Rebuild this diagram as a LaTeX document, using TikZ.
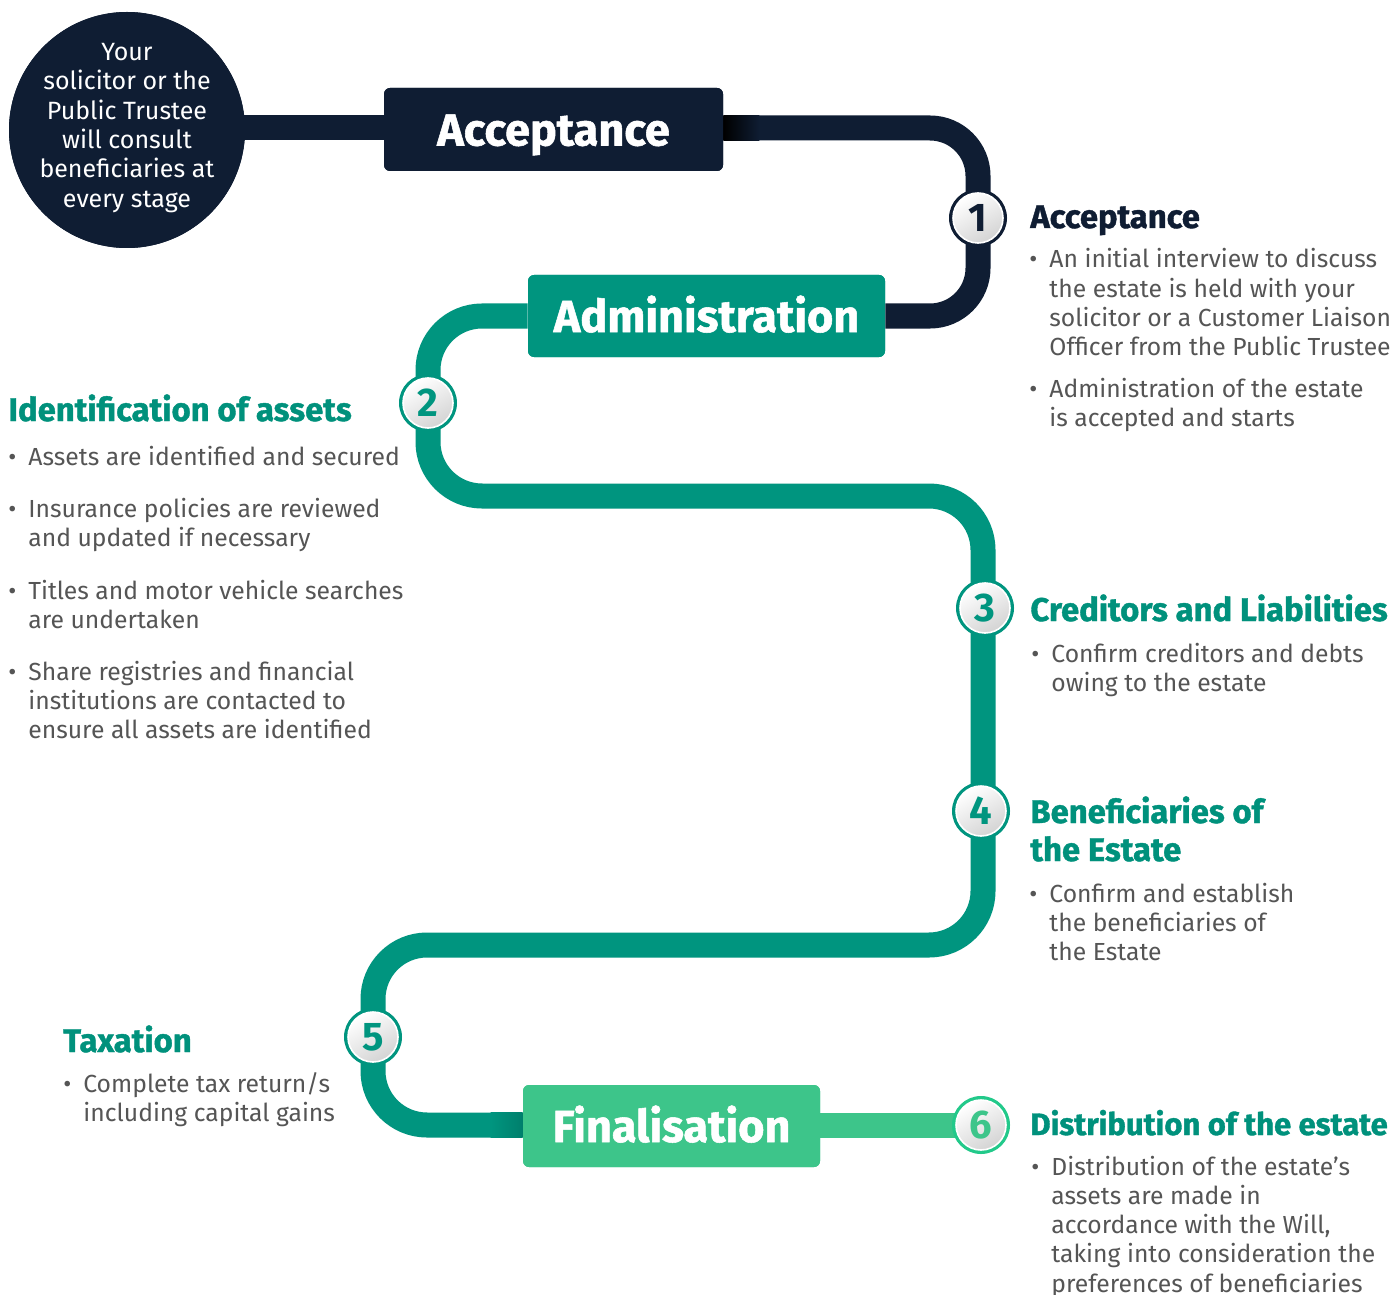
\documentclass[tikz,border=0pt]{standalone}
\usepackage{fontspec}
\setmainfont{Fira Sans}
\newfontfamily\heavyfont{Fira Sans}[BoldFeatures={FakeBold=1.2}]
\definecolor{navy}{HTML}{0F1D33}
\definecolor{tl}{HTML}{00957F}
\definecolor{tldark}{HTML}{007F6C}
\definecolor{grn}{HTML}{3DC58A}
\definecolor{grnring}{HTML}{22C98A}
\definecolor{txt}{HTML}{555555}
\definecolor{ttxt}{HTML}{00917C}
\newcommand\bitem[1]{\makebox[10pt][l]{\textbullet}\parbox[t]{300pt}{#1}}
\tikzset{
  pipe/.style={line width=12.5pt},
  bigbox/.style={rounded corners=3pt, inner sep=0pt, text=white, text height=16pt, text depth=0pt,
    font=\fontsize{22.5}{26}\selectfont\heavyfont\bfseries},
  badgeout/.style={circle, minimum size=29pt, inner sep=0pt, fill=#1},
  badgein/.style={circle, minimum size=25pt, inner sep=0pt, draw=white, line width=0.8pt,
    top color=white, bottom color=black!17, shading angle=30, text=#1,
    font=\fontsize{20}{20}\selectfont\bfseries},
  hd/.style={anchor=base west, inner sep=0pt, text=#1, font=\fontsize{16.4}{19.5}\selectfont\heavyfont\bfseries},
  bd/.style={anchor=base west, inner sep=0pt, text=txt, font=\fontsize{12.35}{14.65}\selectfont},
}
\begin{document}
\begin{tikzpicture}[x=0.5pt,y=-0.5pt]
\useasboundingbox[fill=white] (0,0) rectangle (1395,1294);

% boxes and circle
\node[circle, fill=navy, minimum size=118pt, inner sep=0pt] (circ) at (127,130) {};
\node[bigbox, fill=navy, minimum width=169.5pt, minimum height=41.5pt] (acc) at (553.5,129.5) {Acceptance};
\node[bigbox, fill=tl, minimum width=178.5pt, minimum height=41pt] (adm) at (706.5,316) {Administration};
\node[bigbox, fill=grn, minimum width=148.5pt, minimum height=41pt] (fin) at (671.5,1126) {Finalisation};

% corner coordinates
\coordinate (n1) at (978,128);
\coordinate (n2) at (978,316);
\coordinate (t1) at (428,316);
\coordinate (t2) at (428,496);
\coordinate (t3) at (983,496);
\coordinate (t4) at (983,945);
\coordinate (t5) at (373,945);
\coordinate (t6) at (373,1125);

% badge positions
\coordinate (p1) at (978,218);
\coordinate (p2) at (428,403);
\coordinate (p3) at (985,608);
\coordinate (p4) at (981,811);
\coordinate (p5) at (373,1037);
\coordinate (p6) at (981,1125);

\draw[pipe, navy] (circ.center |- 0,128) -- (acc.west |- 0,128);
\draw[pipe, navy, rounded corners=24pt] (acc.east |- n1) -- (n1) -- (n2) -- (adm.east |- n2);
\draw[pipe, tl, rounded corners=27pt] (adm.west) -- (t1) -- (t2) -- (t3) -- (t4) -- (t5) -- (t6) -- (fin.west |- t6);
\draw[pipe, grn] (fin.east |- p6) -- (p6);
\shade[left color=black, right color=navy] ([yshift=-6.25pt]acc.east |- n1) rectangle ([yshift=6.25pt, xshift=18pt]acc.east |- n1);
\shade[left color=tl, right color=tldark] ([yshift=-6.25pt, xshift=-16pt]fin.west |- t6) rectangle ([yshift=6.25pt]fin.west |- t6);

% redraw boxes on top
\node[circle, fill=navy, minimum size=118pt, inner sep=0pt] (circ2) at (circ) {};
\node[text=white, align=center, inner sep=0pt, font=\fontsize{12.5}{14.65}\selectfont] (circt) at (127,128)
  {Your\\solicitor or the\\Public Trustee\\will consult\\beneficiaries at\\every stage};
\node[bigbox, fill=navy, minimum width=169.5pt, minimum height=41.5pt] (acc2) at (acc) {Acceptance};
\node[bigbox, fill=tl, minimum width=178.5pt, minimum height=41pt] (adm2) at (adm) {Administration};
\node[bigbox, fill=grn, minimum width=148.5pt, minimum height=41pt] (fin2) at (fin) {Finalisation};

% badges
\node[badgeout=navy] (b1) at (p1) {};
\node[badgein=navy] (b1n) at (p1) {1};
\node[badgeout=tl] (b2) at (p2) {};
\node[badgein=tl] (b2n) at (p2) {2};
\node[badgeout=tl] (b3) at (p3) {};
\node[badgein=tl] (b3n) at (p3) {3};
\node[badgeout=tl] (b4) at (p4) {};
\node[badgein=tl] (b4n) at (p4) {4};
\node[badgeout=tl] (b5) at (p5) {};
\node[badgein=tl] (b5n) at (p5) {5};
\node[badgeout=grnring] (b6) at (p6) {};
\node[badgein=grn] (b6n) at (p6) {6};

% Acceptance text
\node[hd=navy] (h1) at (1030,228) {Acceptance};
\node[bd] (a1) at (1029,268) {\bitem{An initial interview to discuss\\the estate is held with your\\solicitor or a Customer Liaison\\Officer from the Public Trustee}};
\node[bd] (a2) at (1029,397) {\bitem{Administration of the estate\\is accepted and starts}};

% Identification
\node[hd=ttxt] (h2) at (8,421) {Identification of assets};
\node[bd] (i1) at (8,465) {\bitem{Assets are identified and secured}};
\node[bd] (i2) at (8,517) {\bitem{Insurance policies are reviewed\\and updated if necessary}};
\node[bd] (i3) at (8,599) {\bitem{Titles and motor vehicle searches\\are undertaken}};
\node[bd] (i4) at (8,680) {\bitem{Share registries and financial\\institutions are contacted to\\ensure all assets are identified}};

% Creditors
\node[hd=ttxt] (h3) at (1030,621) {Creditors and Liabilities};
\node[bd] (c1) at (1031,662) {\bitem{Confirm creditors and debts\\owing to the estate}};

% Beneficiaries
\node[hd=ttxt] (h4) at (1030,823) {Beneficiaries of};
\node[hd=ttxt] (h4b) at (1030,861) {the Estate};
\node[bd] (e1) at (1029,902) {\bitem{Confirm and establish\\the beneficiaries of\\the Estate}};

% Taxation
\node[hd=ttxt] (h5) at (63,1052) {Taxation};
\node[bd] (x1) at (63,1092) {\bitem{Complete tax return/s\\including capital gains}};

% Distribution
\node[hd=ttxt, font=\fontsize{15.5}{19.5}\selectfont\heavyfont\bfseries] (h6) at (1030,1135) {Distribution of the estate};
\node[bd] (d1) at (1031,1175) {\bitem{Distribution of the estate’s\\assets are made in\\accordance with the Will,\\taking into consideration the\\preferences of beneficiaries}};
\end{tikzpicture}
\end{document}
